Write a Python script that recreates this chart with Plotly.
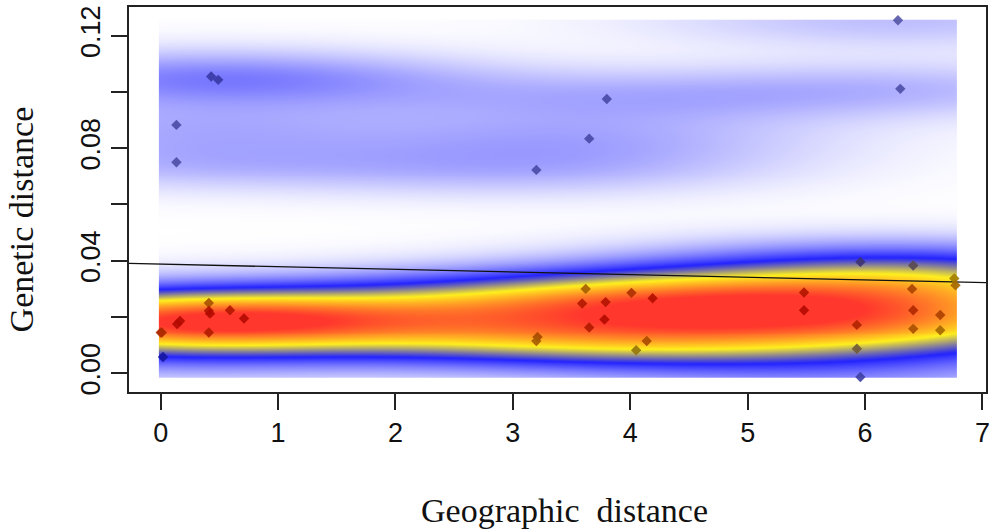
import numpy as np
import plotly.graph_objects as go

# Geographic distance (x) and genetic distance (y) of each pair
geo_dist = [0.00, 0.01, 0.02, 0.14, 0.165, 0.41, 0.41, 0.42, 0.59, 0.71, 0.41,
            3.62, 3.59, 3.79, 4.01, 4.19, 3.78, 3.65, 3.21, 3.20, 4.14, 4.05,
            5.96, 5.48, 5.48, 5.93, 5.93, 5.96,
            6.41, 6.40, 6.41, 6.41, 6.64, 6.64, 6.76, 6.77,
            0.43, 0.49, 0.134, 0.134, 3.80, 3.65, 3.20, 6.28, 6.30]
gen_dist = [0.0145, 0.0145, 0.0058, 0.0175, 0.0186, 0.0250, 0.0222, 0.0212, 0.0224, 0.0195, 0.0145,
            0.0300, 0.0248, 0.0253, 0.0286, 0.0267, 0.0191, 0.0163, 0.0129, 0.0115, 0.0115, 0.0082,
            0.0396, 0.0287, 0.0224, 0.0172, 0.0087, -0.0013,
            0.0383, 0.0300, 0.0224, 0.0158, 0.0207, 0.0153, 0.0337, 0.0313,
            0.1055, 0.1043, 0.0883, 0.0750, 0.0975, 0.0834, 0.0723, 0.1255, 0.1011]

# Regression line
line_intercept = 0.0388
line_slope = -0.00093

x_ticks = [0, 1, 2, 3, 4, 5, 6, 7]
y_tick_vals = [0.00, 0.02, 0.04, 0.06, 0.08, 0.10, 0.12]
y_tick_text = ["0.00", "", "0.04", "", "0.08", "", "0.12"]

X_RANGE = [-0.27, 7.03]
Y_RANGE = [-0.00665, 0.1302]

# ---- 2-D kernel density of the points (wide in x, narrow in y) ----
gx = np.array(geo_dist)
gy = np.array(gen_dist)
hx, hy = 1.5, 0.007
xs = np.linspace(gx.min(), gx.max(), 220)
ys = np.linspace(gy.min(), gy.max(), 360)
Wx = np.exp(-0.5 * ((xs[:, None] - gx[None, :]) / hx) ** 2)          # (nx, n)
Ky = np.exp(-0.5 * ((ys[:, None] - gy[None, :]) / hy) ** 2)          # (ny, n)
dens = Ky @ Wx.T                                                      # (ny, nx)
zmax = 0.92 * dens.max()

# density at each point
wpt = np.exp(-0.5 * ((gx[:, None] - gx[None, :]) / hx) ** 2)
kpt = np.exp(-0.5 * ((gy[:, None] - gy[None, :]) / hy) ** 2)
dens_pts = (kpt * wpt).sum(axis=1)

scale = [[0.0, "rgb(255,255,255)"], [0.38, "rgb(35,35,255)"],
         [0.66, "rgb(255,240,30)"], [1.0, "rgb(255,55,45)"]]
dark_scale = [[0.0, "rgb(110,110,170)"], [0.38, "rgb(20,20,160)"],
              [0.66, "rgb(160,125,0)"], [1.0, "rgb(180,10,0)"]]

fig = go.Figure()
fig.add_trace(go.Heatmap(x=xs, y=ys, z=dens, colorscale=scale, zmin=0, zmax=zmax,
                         showscale=False, zsmooth="best", hoverinfo="skip"))
fig.add_trace(go.Scatter(x=X_RANGE, y=[line_intercept + line_slope * v for v in X_RANGE],
                         mode="lines", line=dict(color="#111", width=1.3),
                         showlegend=False, hoverinfo="skip"))
fig.add_trace(go.Scatter(x=geo_dist, y=gen_dist, mode="markers",
                         marker=dict(symbol="diamond", size=8, color=dens_pts,
                                     colorscale=dark_scale, cmin=0, cmax=zmax,
                                     opacity=0.9, line=dict(width=0)),
                         showlegend=False))

axis_common = dict(showgrid=False, zeroline=False, showline=True, linecolor="#222",
                   linewidth=1.5, mirror=True, ticks="outside", ticklen=16,
                   tickwidth=1.5, tickcolor="#222", automargin=False,
                   tickfont=dict(family="Liberation Sans, Arial, sans-serif",
                                 size=27, color="#111"))
fig.update_xaxes(range=X_RANGE, tickvals=x_ticks, **axis_common)
fig.update_yaxes(range=Y_RANGE, tickvals=y_tick_vals, ticktext=y_tick_text,
                 tickangle=-90, **axis_common)

title_font = dict(family="Liberation Serif, Times New Roman, serif", size=34, color="#111")
fig.add_annotation(text="Geographic&nbsp;&nbsp;distance", xref="paper", yref="paper",
                   x=0.508, y=-0.307, xanchor="center", yanchor="middle",
                   showarrow=False, font=title_font)
fig.add_annotation(text="Genetic distance", xref="paper", yref="paper",
                   x=-0.125, y=0.448, xanchor="center", yanchor="middle",
                   textangle=-90, showarrow=False, font=title_font)

fig.update_layout(width=990, height=532, margin=dict(l=129, r=4, t=7, b=140),
                  plot_bgcolor="white", paper_bgcolor="white")
fig.write_html("out.html", config={"displayModeBar": False},
               post_script="document.body.style.margin='0';document.body.style.padding='0';")
